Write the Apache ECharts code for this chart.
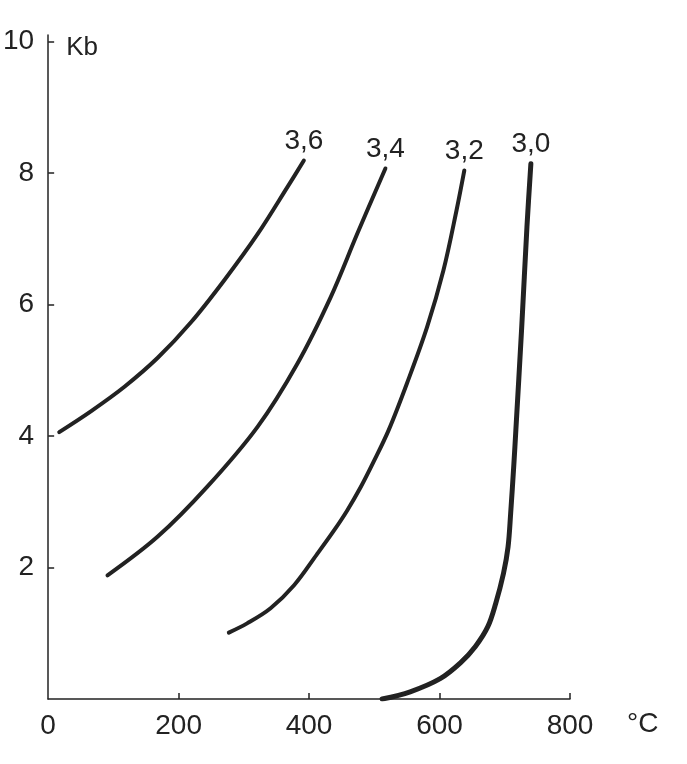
<!DOCTYPE html>
<html>
<head>
<meta charset="utf-8">
<script src="https://cdn.jsdelivr.net/npm/echarts@6/dist/echarts.min.js"></script>
<style>
html,body{margin:0;padding:0;background:#fff;}
#c{width:687px;height:764px;}
</style>
</head>
<body>
<div id="c"></div>
<script>
// Temperature (°C) and pressure (Kb) values
const curveNames = ['3,6', '3,4', '3,2', '3,0'];
const temp36 = [17, 66, 117, 168, 219, 270, 321, 367, 392];
const pres36 = [4.06, 4.38, 4.75, 5.19, 5.73, 6.37, 7.07, 7.79, 8.19];
const temp34 = [91, 168, 244, 321, 382, 433, 474, 517];
const pres34 = [1.88, 2.47, 3.23, 4.14, 5.10, 6.11, 7.08, 8.07];
const temp32 = [277, 305, 341, 377, 412, 438, 458, 479, 499, 522, 550, 581, 606, 626, 638];
const pres32 = [1.01, 1.15, 1.38, 1.73, 2.20, 2.56, 2.86, 3.22, 3.61, 4.09, 4.80, 5.66, 6.52, 7.43, 8.04];
const temp30 = [512, 555, 601, 632, 655, 674, 686, 698, 705, 709, 714, 717, 726, 734, 740];
const pres30 = [0.00, 0.11, 0.31, 0.55, 0.80, 1.10, 1.45, 1.91, 2.31, 2.82, 3.58, 4.09, 5.66, 7.18, 8.14];
const xTickLabels = [0, 200, 400, 600, 800];
const xTickMarks = [200, 400, 600, 800];
const yTickLabels = [2, 4, 6, 8, 10];

const FONT = "'Liberation Sans', sans-serif";
const INK = '#222';

function pts(t, p) { return t.map((v, i) => [v, p[i]]); }

const curves = [
  { name: curveNames[0], t: temp36, p: pres36, w: 4 },
  { name: curveNames[1], t: temp34, p: pres34, w: 4 },
  { name: curveNames[2], t: temp32, p: pres32, w: 4 },
  { name: curveNames[3], t: temp30, p: pres30, w: 5 }
];

const chart = echarts.init(document.getElementById('c'), null, { renderer: 'canvas' });
chart.setOption({
  backgroundColor: '#fff',
  animation: false,
  grid: { left: 47, right: 117, top: 35, bottom: 65 },
  xAxis: {
    type: 'value', min: 0, max: 800, interval: 200,
    name: '°C', nameLocation: 'end', nameGap: 57,
    nameTextStyle: { color: INK, fontSize: 28, fontFamily: FONT, align: 'left', verticalAlign: 'top', padding: [11, 0, 0, 0] },
    axisLine: { show: true, lineStyle: { color: INK, width: 1.5 } },
    axisTick: { show: true, inside: true, length: 6, lineStyle: { color: INK, width: 1.5 }, customValues: xTickMarks },
    axisLabel: { color: INK, fontSize: 28, fontFamily: FONT, margin: 13, customValues: xTickLabels },
    splitLine: { show: false }
  },
  yAxis: {
    type: 'value', min: 0, max: 10.1,
    name: 'Kb', nameLocation: 'end', nameGap: -13,
    nameTextStyle: { color: INK, fontSize: 26, fontFamily: FONT, align: 'left', verticalAlign: 'middle', padding: [0, 0, 0, 18] },
    axisLine: { show: true, lineStyle: { color: INK, width: 1.5 } },
    axisTick: { show: true, inside: true, length: 6, lineStyle: { color: INK, width: 1.5 }, customValues: yTickLabels },
    axisLabel: { color: INK, fontSize: 28, fontFamily: FONT, margin: 14, customValues: yTickLabels },
    splitLine: { show: false }
  },
  series: curves.map(c => ({
    name: c.name,
    type: 'line',
    data: pts(c.t, c.p),
    smooth: 0.35,
    showSymbol: false,
    silent: true,
    lineStyle: { color: INK, width: c.w, cap: 'round', join: 'round' },
    markPoint: {
      symbol: 'circle', symbolSize: 1,
      itemStyle: { color: 'rgba(0,0,0,0)' },
      label: { show: true, position: 'top', distance: 5, formatter: c.name, color: INK, fontSize: 28, fontFamily: FONT },
      data: [{ coord: [c.t[c.t.length - 1], c.p[c.p.length - 1]] }]
    }
  }))
});
</script>
</body>
</html>
